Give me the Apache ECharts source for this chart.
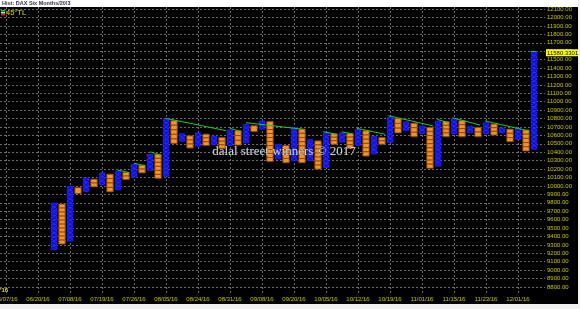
<!DOCTYPE html>
<html><head><meta charset="utf-8">
<script src="https://cdn.jsdelivr.net/npm/echarts@6/dist/echarts.min.js"></script>
<style>html,body{margin:0;padding:0;background:#000;} #c{width:580px;height:309px;}</style>
</head><body><div id="c"></div>
<script>
// ---- data ----
const BOX = 50;
const columnType = ['X','O','X','O','X','O','X','O','X','O','X','O','X','O','X','O','X','O','X','O','X','O','X','O','X','O','X','O','X','O','X','O','X','O','X','O','X','O','X','O','X','O','X','O','X','O','X','O','X','O','X','O','X','O','X','O','X','O','X','O','X'];
const columnHigh = [9800,9785,10000,9980,10100,10080,10160,10140,10180,10160,10260,10245,10380,10375,10800,10775,10625,10595,10635,10615,10595,10575,10670,10655,10735,10715,10775,10765,10500,10480,10700,10675,10555,10535,10635,10620,10635,10625,10675,10655,10595,10575,10820,10800,10765,10745,10715,10695,10775,10765,10805,10775,10715,10695,10755,10735,10695,10675,10690,10665,11600];
const columnLow  = [9240,9310,9340,9910,9930,9990,10010,9930,9950,10075,10100,10155,10180,10090,10110,10505,10525,10450,10465,10480,10485,10445,10475,10485,10505,10645,10670,10290,10315,10275,10295,10275,10295,10200,10215,10495,10515,10445,10475,10355,10375,10495,10510,10630,10650,10585,10615,10210,10230,10585,10615,10585,10625,10585,10615,10605,10625,10525,10545,10415,10430];
const dateCols = [-6,-2,2,6,10,14,18,22,26,30,34,38,42,46,50,54,58];
const dateLabels = ['06/07/16','06/20/16','07/08/16','07/19/16','07/26/16','08/05/16','08/24/16','08/31/16','09/08/16','09/20/16','10/05/16','10/12/16','10/19/16','11/01/16','11/15/16','11/23/16','12/01/16'];
const priceTicks = [8800,8900,9000,9100,9200,9300,9400,9500,9600,9700,9800,9900,10000,10100,10200,10300,10400,10500,10600,10700,10800,10900,11000,11100,11200,11300,11400,11500,11600,11700,11800,11900,12000,12100];
const lastPrice = 11580.3301;
// 45-degree trend line segments: [column, price] start / end
const trendStart = [[7.96,10189],[10.04,10269],[12,10406],[13.96,10803],[22,10684],[24,10751],[33.66,10644],[35.96,10644],[37.84,10684],[41.8,10834],[47.9,10791],[49.8,10810],[53.9,10771],[59.6,11602]];
const trendEnd   = [[9.41,10157],[11.41,10240],[13.46,10359],[21.5,10656],[23.46,10644],[31.16,10673],[35.34,10613],[37.41,10613],[41.4,10613],[47.4,10712],[49.3,10751],[53.25,10723],[59.4,10652],[60.3,11602]];

// ---- build ----
const colData = columnHigh.map((h, i) => [i, columnLow[i], h, columnType[i] === 'X' ? 1 : 0]);
const tlData = trendStart.map((s, k) => ({coords: [s, trendEnd[k]]}));

function renderItem(params, api) {
  const i = api.value(0), lo = api.value(1), hi = api.value(2), t = api.value(3);
  const top = api.coord([i, hi]);
  const bot = api.coord([i, lo]);
  const w = api.size([1, 0])[0] * 0.8;
  const x = top[0] - w / 2;
  const H = bot[1] - top[1];
  const n = Math.max(1, Math.round((hi - lo) / BOX));
  const h = H / n;
  const children = [];
  if (t === 1) {
    children.push({type: 'rect', shape: {x: x, y: top[1], width: w, height: H}, style: {fill: '#2424f2'}});
    for (let k = 0; k < n; k++) {
      const y0 = top[1] + k * h;
      children.push({type: 'line', shape: {x1: x, y1: y0, x2: x + w, y2: y0 + h}, style: {stroke: '#0000a0', lineWidth: 0.6}});
      children.push({type: 'line', shape: {x1: x + w, y1: y0, x2: x, y2: y0 + h}, style: {stroke: '#0000a0', lineWidth: 0.6}});
    }
  } else {
    for (let k = 0; k < n; k++) {
      const y0 = top[1] + k * h;
      children.push({type: 'rect', shape: {x: x, y: y0, width: w, height: h}, style: {fill: '#f0922e', stroke: '#8a4208', lineWidth: 0.8}});
    }
  }
  return {type: 'group', children: children};
}

const labelColor = '#c8c800';
const chart = echarts.init(document.getElementById('c'), null, {renderer: 'canvas'});
chart.setOption({
  backgroundColor: '#000',
  animation: false,
  grid: {left: 0, right: 35, top: 7, bottom: 16, containLabel: false, outerBoundsMode: 'none'},
  legend: {
    left: 0, top: 9, itemWidth: 1, itemHeight: 6, itemGap: 2, icon: 'none', padding: 0,
    textStyle: {color: '#e0e000', fontSize: 7.5, fontFamily: 'Liberation Sans'},
    data: [{name: '45°TL'}]
  },
  xAxis: {
    type: 'value', min: -6.75, max: 61.375,
    axisLine: {show: false},
    axisTick: {show: false, customValues: dateCols},
    axisLabel: {
      customValues: dateCols, color: labelColor, fontSize: 6, fontFamily: 'Liberation Sans', margin: 3,
      formatter: v => dateLabels[dateCols.indexOf(v)] || ''
    },
    splitLine: {show: true, lineStyle: {color: '#6c6c6c', type: [2, 2], width: 1}}
  },
  yAxis: {
    type: 'value', position: 'right', min: 8728.8, max: 12124.7,
    axisLine: {show: false},
    axisTick: {show: false, customValues: priceTicks},
    axisLabel: {customValues: priceTicks, color: labelColor, fontSize: 6, fontFamily: 'Liberation Sans', margin: 2,
      formatter: v => v.toFixed(2)},
    splitLine: {show: true, lineStyle: {color: '#6c6c6c', type: [2, 2], width: 1}}
  },
  series: [
    {
      type: 'custom', name: 'PF', renderItem: renderItem, data: colData, clip: true,
      encode: {x: 0, y: [1, 2]}, z: 2,
      markLine: {
        silent: true, symbol: 'none', animation: false,
        lineStyle: {color: 'transparent', width: 0},
        label: {position: 'end', distance: 1, formatter: () => lastPrice.toFixed(4), color: '#000',
          backgroundColor: '#ffff00', padding: [1, 2, 0, 1], fontSize: 6, fontFamily: 'Liberation Sans'},
        data: [{yAxis: lastPrice}]
      }
    },
    {
      type: 'lines', name: '45°TL', coordinateSystem: 'cartesian2d', data: tlData, z: 3,
      lineStyle: {color: '#22cc22', width: 1, opacity: 1}
    }
  ],
  graphic: [
    {type: 'rect', left: 0, top: 0, z: 100, shape: {width: 580, height: 7}, style: {fill: '#ffffff'}},
    {type: 'text', left: 2, top: 0, z: 101, style: {text: 'Hist: DAX Six Months/20/3', fill: '#303048', font: 'bold 5.5px "Liberation Sans"'}},
    {type: 'rect', left: 0, top: 304, z: 100, shape: {width: 580, height: 5}, style: {fill: '#f0f0f0'}},
    {type: 'rect', left: 578, top: 0, z: 100, shape: {width: 2, height: 309}, style: {fill: '#f0f0f0'}},
    {type: 'rect', left: 1, top: 10, z: 101, shape: {width: 4, height: 1.5}, style: {fill: '#22cc22'}},
    {type: 'rect', left: 1, top: 12, z: 101, shape: {width: 4, height: 1.5}, style: {fill: '#e0e0e0'}},
    {type: 'rect', left: 1, top: 14, z: 101, shape: {width: 4, height: 1.5}, style: {fill: '#e02020'}},
    {type: 'text', left: 0, top: 287, z: 101, style: {text: "'16", fill: '#e0e000', font: 'bold 6px "Liberation Sans"'}},
    {type: 'text', x: 284, y: 152, z: 50, style: {text: 'dalal street winners © 2017', fill: '#cdd5dd', font: '13px "Liberation Serif"', align: 'center', verticalAlign: 'middle', textShadowColor: '#404040', textShadowBlur: 1}}
  ]
});
</script></body></html>
